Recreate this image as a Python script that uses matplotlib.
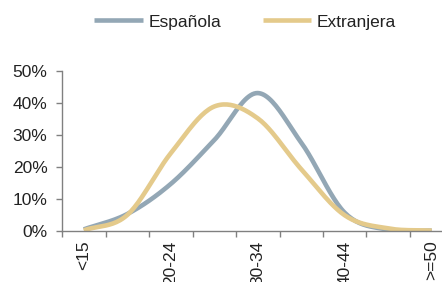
import numpy as np
import matplotlib
matplotlib.use("Agg")
import matplotlib.pyplot as plt
from matplotlib.ticker import FuncFormatter, FixedLocator

plt.rcParams['font.family'] = ['Liberation Sans', 'DejaVu Sans']

# age groups of the mother (every other label is printed)
categories = ['<15', '15-19', '20-24', '25-29', '30-34', '35-39', '40-44', '45-49', '>=50']
espanola = [0.5, 5.3, 14.7, 28.4, 43.1, 27.6, 5.7, 0.4, 0.1]
extranjera = [0.2, 5.0, 24.3, 38.9, 35.2, 19.3, 4.9, 0.8, 0.1]

grey = '#93a7b5'
gold = '#e4ca8b'


def smooth(x, y, n=24):
    # Catmull-Rom curve through the points, like the "smoothed line" option
    x = np.asarray(x, float)
    y = np.asarray(y, float)
    px = np.concatenate([[2 * x[0] - x[1]], x, [2 * x[-1] - x[-2]]])
    py = np.concatenate([[2 * y[0] - y[1]], y, [2 * y[-1] - y[-2]]])
    t = np.linspace(0, 1, n, endpoint=False)
    xs, ys = [], []
    for i in range(1, len(px) - 2):
        for p, out in ((px, xs), (py, ys)):
            p0, p1, p2, p3 = p[i - 1], p[i], p[i + 1], p[i + 2]
            out.append(0.5 * (2 * p1 + (-p0 + p2) * t
                              + (2 * p0 - 5 * p1 + 4 * p2 - p3) * t ** 2
                              + (-p0 + 3 * p1 - 3 * p2 + p3) * t ** 3))
    xs.append([x[-1]])
    ys.append([y[-1]])
    return np.concatenate(xs), np.concatenate(ys)


fig = plt.figure(figsize=(4.42, 2.82), dpi=100)
ax = fig.add_axes([0.1403, 0.1809, 0.8857, 0.5674])

pos = np.arange(len(categories))
sx, sy = smooth(pos, espanola)
ax.plot(sx, sy, color=grey, lw=3.3, label='Española', solid_capstyle='butt')
sx, sy = smooth(pos, extranjera)
ax.plot(sx, sy, color=gold, lw=3.3, label='Extranjera', solid_capstyle='butt')

ax.set_xlim(-0.5, len(categories) - 0.5)
ax.set_ylim(0, 50)
ax.set_yticks(np.arange(0, 51, 10))
ax.yaxis.set_major_formatter(FuncFormatter(lambda v, _: f'{v:.0f}%'))

# tick marks at the group boundaries, labels at every other group
ax.xaxis.set_major_locator(FixedLocator(np.arange(-0.5, len(categories), 1.0)))
ax.xaxis.set_major_formatter(FuncFormatter(lambda v, _: ''))
ax.xaxis.set_minor_locator(FixedLocator(pos[::2]))
ax.set_xticklabels(categories[::2], minor=True, rotation=90, va='top', ha='center')
ax.tick_params(axis='x', which='minor', length=0, pad=7, labelsize=12.5, labelcolor='#222222')
ax.tick_params(axis='x', which='major', length=4, width=1, color='#808080')
ax.tick_params(axis='y', length=4.5, width=1, color='#808080', labelsize=12.5,
               labelcolor='#222222', pad=6)

for s in ('top', 'right'):
    ax.spines[s].set_visible(False)
for s in ('left', 'bottom'):
    ax.spines[s].set_color('#808080')
    ax.spines[s].set_linewidth(1)

fig.legend(loc='center', bbox_to_anchor=(245 / 442, 1 - 22 / 282), ncol=2,
           frameon=False, fontsize=12.5, handlelength=2.8, handletextpad=0.3,
           columnspacing=2.4, labelcolor='#222222')

fig.savefig('out.png', dpi=100)
